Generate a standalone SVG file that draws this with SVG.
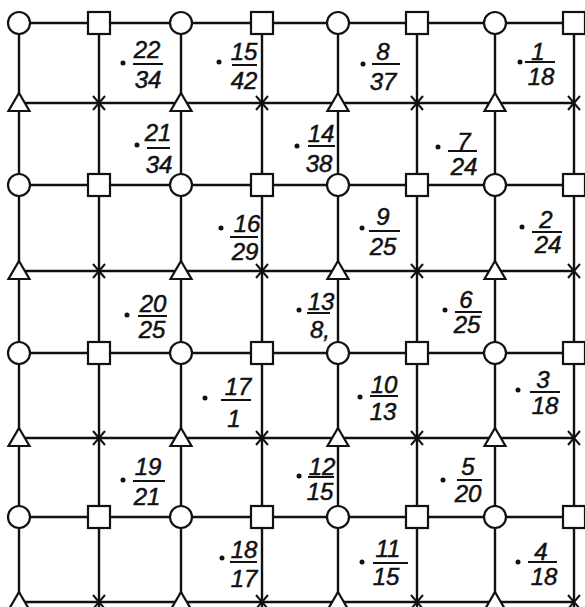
<svg xmlns="http://www.w3.org/2000/svg" xmlns:xlink="http://www.w3.org/1999/xlink" width="585" height="607" viewBox="0 0 585 607">
<style>
.ln{stroke:#111;stroke-width:2.4;fill:none}
.nd{fill:#fff;stroke:#111;stroke-width:2.2}
.x{stroke:#111;stroke-width:2;fill:none}
.t{font-family:"Liberation Sans",Arial,sans-serif;font-style:italic;font-size:24px;fill:#111;stroke:#111;stroke-width:0.5;text-anchor:middle}
.bar{stroke:#111;stroke-width:2}
.dot{fill:#111}
</style>
<defs>
<circle id="C" r="11" class="nd"/>
<rect id="S" x="-11" y="-11" width="22" height="22" class="nd"/>
<path id="T" d="M0,-10 L10.5,8 L-10.5,8 Z" class="nd"/>
<path id="X" d="M-6,-7 L6,7 M-6,7 L6,-7" class="x"/>
</defs>
<rect width="585" height="607" fill="#fff"/>
<g id="connectors">
<path class="ln" d="M19,23 H574 M19,103 H574 M19,185 H574 M19,271 H574 M19,353 H574 M19,438 H574 M19,517 H574 M19,602 H574"/>
<path class="ln" d="M19,23 V607 M99,23 V607 M181,23 V607 M262,23 V607 M338,23 V607 M417,23 V607 M495,23 V607 M574,23 V607"/>
</g>
<g id="nodes">
<g id="r0"><use href="#C" x="19" y="23"/><use href="#S" x="99" y="23"/><use href="#C" x="181" y="23"/><use href="#S" x="262" y="23"/><use href="#C" x="338" y="23"/><use href="#S" x="417" y="23"/><use href="#C" x="495" y="23"/><use href="#S" x="574" y="23"/></g>
<g id="r1"><use href="#T" x="19" y="103"/><use href="#X" x="99" y="103"/><use href="#T" x="181" y="103"/><use href="#X" x="262" y="103"/><use href="#T" x="338" y="103"/><use href="#X" x="417" y="103"/><use href="#T" x="495" y="103"/><use href="#X" x="574" y="103"/></g>
<g id="r2"><use href="#C" x="19" y="185"/><use href="#S" x="99" y="185"/><use href="#C" x="181" y="185"/><use href="#S" x="262" y="185"/><use href="#C" x="338" y="185"/><use href="#S" x="417" y="185"/><use href="#C" x="495" y="185"/><use href="#S" x="574" y="185"/></g>
<g id="r3"><use href="#T" x="19" y="271"/><use href="#X" x="99" y="271"/><use href="#T" x="181" y="271"/><use href="#X" x="262" y="271"/><use href="#T" x="338" y="271"/><use href="#X" x="417" y="271"/><use href="#T" x="495" y="271"/><use href="#X" x="574" y="271"/></g>
<g id="r4"><use href="#C" x="19" y="353"/><use href="#S" x="99" y="353"/><use href="#C" x="181" y="353"/><use href="#S" x="262" y="353"/><use href="#C" x="338" y="353"/><use href="#S" x="417" y="353"/><use href="#C" x="495" y="353"/><use href="#S" x="574" y="353"/></g>
<g id="r5"><use href="#T" x="19" y="438"/><use href="#X" x="99" y="438"/><use href="#T" x="181" y="438"/><use href="#X" x="262" y="438"/><use href="#T" x="338" y="438"/><use href="#X" x="417" y="438"/><use href="#T" x="495" y="438"/><use href="#X" x="574" y="438"/></g>
<g id="r6"><use href="#C" x="19" y="517"/><use href="#S" x="99" y="517"/><use href="#C" x="181" y="517"/><use href="#S" x="262" y="517"/><use href="#C" x="338" y="517"/><use href="#S" x="417" y="517"/><use href="#C" x="495" y="517"/><use href="#S" x="574" y="517"/></g>
<g id="r7"><use href="#T" x="19" y="602"/><use href="#X" x="99" y="602"/><use href="#T" x="181" y="602"/><use href="#X" x="262" y="602"/><use href="#T" x="338" y="602"/><use href="#X" x="417" y="602"/><use href="#T" x="495" y="602"/><use href="#X" x="574" y="602"/></g>
</g>
<g id="labels">
<g id="f22-34"><circle class="dot" cx="123" cy="63" r="2.5"/><text class="t" x="147" y="58">22</text><line class="bar" x1="133" y1="64" x2="163" y2="64"/><text class="t" x="148" y="88">34</text></g>
<g id="f15-42"><circle class="dot" cx="219" cy="62" r="2.5"/><text class="t" x="244" y="60">15</text><line class="bar" x1="232" y1="65" x2="257" y2="65"/><text class="t" x="244" y="89">42</text></g>
<g id="f8-37"><circle class="dot" cx="363" cy="64" r="2.5"/><text class="t" x="383" y="60">8</text><line class="bar" x1="372" y1="64" x2="400" y2="64"/><text class="t" x="383" y="90">37</text></g>
<g id="f1-18"><circle class="dot" cx="520" cy="62" r="2.5"/><text class="t" x="538" y="60">1</text><line class="bar" x1="525" y1="62" x2="555" y2="62"/><text class="t" x="541" y="85">18</text></g>
<g id="f21-34"><circle class="dot" cx="137" cy="145" r="2.5"/><text class="t" x="158" y="141">21</text><line class="bar" x1="147" y1="148" x2="170" y2="148"/><text class="t" x="159" y="173">34</text></g>
<g id="f14-38"><circle class="dot" cx="297" cy="146" r="2.5"/><text class="t" x="321" y="142">14</text><line class="bar" x1="308" y1="146" x2="335" y2="146"/><text class="t" x="319" y="172">38</text></g>
<g id="f7-24"><circle class="dot" cx="438" cy="147" r="2.5"/><text class="t" x="464" y="150">7</text><line class="bar" x1="448" y1="151" x2="477" y2="151"/><text class="t" x="464" y="175">24</text></g>
<g id="f16-29"><circle class="dot" cx="221" cy="228" r="2.5"/><text class="t" x="247" y="232">16</text><line class="bar" x1="230" y1="237" x2="258" y2="237"/><text class="t" x="245" y="260">29</text></g>
<g id="f9-25"><circle class="dot" cx="362" cy="228" r="2.5"/><text class="t" x="383" y="225">9</text><line class="bar" x1="369" y1="231" x2="400" y2="231"/><text class="t" x="383" y="255">25</text></g>
<g id="f2-24"><circle class="dot" cx="522" cy="227" r="2.5"/><text class="t" x="546" y="228">2</text><line class="bar" x1="532" y1="232" x2="562" y2="232"/><text class="t" x="548" y="253">24</text></g>
<g id="f20-25"><circle class="dot" cx="127" cy="315" r="2.5"/><text class="t" x="153" y="312">20</text><line class="bar" x1="138" y1="316" x2="167" y2="316"/><text class="t" x="152" y="338">25</text></g>
<g id="f13-8"><circle class="dot" cx="299" cy="310" r="2.5"/><text class="t" x="321" y="310">13</text><line class="bar" x1="307" y1="313" x2="330" y2="313"/><text class="t" x="320" y="338">8,</text></g>
<g id="f6-25"><circle class="dot" cx="445" cy="310" r="2.5"/><text class="t" x="466" y="308">6</text><line class="bar" x1="455" y1="312" x2="482" y2="312"/><text class="t" x="467" y="333">25</text></g>
<g id="f17-1"><circle class="dot" cx="205" cy="398" r="2.5"/><text class="t" x="238" y="395">17</text><line class="bar" x1="221" y1="400" x2="251" y2="400"/><text class="t" x="234" y="427">1</text></g>
<g id="f10-13"><circle class="dot" cx="360" cy="397" r="2.5"/><text class="t" x="384" y="393">10</text><line class="bar" x1="370" y1="396" x2="398" y2="396"/><text class="t" x="383" y="420">13</text></g>
<g id="f3-18"><circle class="dot" cx="518" cy="390" r="2.5"/><text class="t" x="543" y="388">3</text><line class="bar" x1="530" y1="392" x2="560" y2="392"/><text class="t" x="545" y="414">18</text></g>
<g id="f19-21"><circle class="dot" cx="123" cy="480" r="2.5"/><text class="t" x="148" y="475">19</text><line class="bar" x1="133" y1="481" x2="165" y2="481"/><text class="t" x="147" y="505">21</text></g>
<g id="f12-15"><circle class="dot" cx="299" cy="476" r="2.5"/><text class="t" x="322" y="475">12</text><line class="bar" x1="308" y1="477" x2="334" y2="477"/><text class="t" x="320" y="500">15</text></g>
<g id="f5-20"><circle class="dot" cx="443" cy="480" r="2.5"/><text class="t" x="468" y="475">5</text><line class="bar" x1="457" y1="480" x2="482" y2="480"/><text class="t" x="468" y="502">20</text></g>
<g id="f18-17"><circle class="dot" cx="222" cy="558" r="2.5"/><text class="t" x="244" y="558">18</text><line class="bar" x1="230" y1="562" x2="257" y2="562"/><text class="t" x="244" y="587">17</text></g>
<g id="f11-15"><circle class="dot" cx="362" cy="562" r="2.5"/><text class="t" x="388" y="557">11</text><line class="bar" x1="373" y1="563" x2="408" y2="563"/><text class="t" x="386" y="585">15</text></g>
<g id="f4-18"><circle class="dot" cx="518" cy="562" r="2.5"/><text class="t" x="541" y="560">4</text><line class="bar" x1="528" y1="562" x2="557" y2="562"/><text class="t" x="544" y="585">18</text></g>
</g>
</svg>
